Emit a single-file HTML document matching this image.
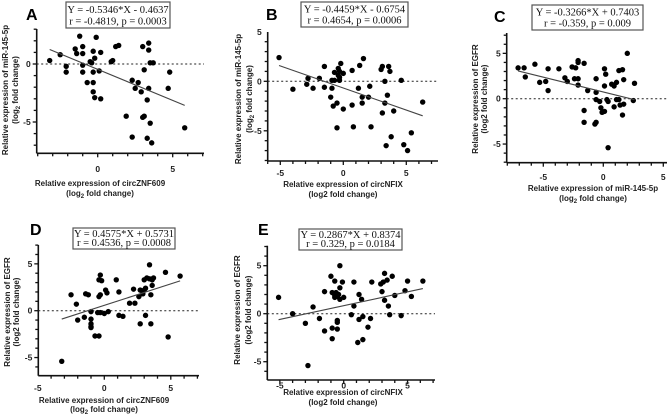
<!DOCTYPE html>
<html><head><meta charset="utf-8"><style>
html,body{margin:0;padding:0;background:#fff;}
svg{display:block;font-family:"Liberation Sans",Arial,sans-serif;}
.tk{font-size:8.5px;font-weight:bold;fill:#222;}
.tt{font-size:8px;font-weight:bold;fill:#222;}
.eq{font-family:"Liberation Serif",serif;font-size:10.5px;fill:#111;}
.lb{font-size:16px;font-weight:bold;fill:#000;}
</style></head><body>
<svg id="fig" width="669" height="417" viewBox="0 0 669 417"></svg>
<script>
const aX=[-3.2,-2.5,-2.1,-2.1,-1.2,-1.5,-1.4,-1.0,-1.0,-1.0,-1.0,-0.7,-0.5,-0.4,-0.3,-0.3,-0.3,-0.2,-0.3,-0.2,-0.1,0.1,0.2,0.2,0.9,1.0,1.2,1.4,1.9,2.3,2.3,2.5,2.7,2.9,3.0,3.0,3.1,3.1,3.3,3.4,3.4,3.3,3.6,3.4,3.5,3.5,3.7,4.7,4.8,5.8];
const aY=[0.3,0.8,-0.2,-0.7,2.4,1.3,0.9,1.5,0.9,-0.1,-0.7,-1.6,0.2,0.1,-0.7,-1.6,-2.4,-2.9,1.1,0.5,2.3,-0.6,1.0,-3.0,0.2,0.3,1.5,1.6,-4.5,-1.4,-6.3,-2.1,-1.6,-2.4,1.5,-4.6,-4.5,-0.5,-3.1,1.8,1.2,-6.4,-6.8,-2.1,-5.1,0.1,0.1,-2.1,-0.7,-5.5];
const bX=[-5.1,-4.0,-2.8,-2.9,-2.4,-1.9,-1.5,-1.5,-1.0,-0.9,-0.9,-0.8,-0.5,-0.7,-0.7,-0.5,-0.4,-0.3,-0.4,-0.3,-0.3,-0.2,0,0,0.7,0.7,0.8,1.3,1.2,1.5,1.5,1.6,2.0,2.1,2.2,3.0,3.1,3.1,3.3,3.3,3.4,3.6,3.7,3.5,3.8,4.0,4.6,4.8,5.1,5.4,6.3];
const bY=[2.4,-0.8,0.3,-0.3,-0.7,0.3,1.5,-0.6,-1.6,0.1,-0.7,-2.5,-2.2,0.9,0.1,-4.7,1.3,1.0,0.6,0.4,0.1,1.8,0.8,-2.8,1.1,-2.4,-4.6,1.6,-0.7,-1.6,-2.2,2.3,-1.6,-0.5,-4.6,1.2,1.5,-3.2,0,-2.2,-6.5,1.5,1.0,-1.4,-5.6,-3.0,0.1,-6.4,-7.0,-5.2,-2.1];
const cX=[-7.1,-6.6,-6.5,-5.7,-5.3,-4.6,-4.8,-4.6,-3.7,-3.2,-3.0,-2.6,-2.3,-2.4,-2.1,-2.1,-2.1,-2.1,-1.6,-1.6,-1.6,-1.3,-0.7,-0.6,-0.6,-0.6,-0.6,-0.3,-0.2,-0.1,0.1,0.1,0.2,0.1,0.3,0.4,0.4,0.7,0.9,1.1,0.9,1.1,1.3,1.3,1.4,1.6,1.7,1.6,1.7,2.0,2.5,2.6];
const cY=[3.4,3.4,2.4,3.8,1.8,3.3,1.9,0.9,3.3,2.3,1.9,3.5,3.4,2.2,2.2,4.2,4.0,1.5,3.9,-1.3,-2.6,0.9,-2.8,-2.6,-0.1,0.7,2.2,-0.3,-1.0,-1.5,-1.4,3.3,2.7,1.4,-0.1,-0.3,-5.4,1.6,1.4,1.8,-0.9,-0.1,-0.1,3.1,-0.7,3.2,2.1,-1.8,-0.6,5.0,-0.2,1.7];
const dX=[-3.2,-2.5,-2.1,-2.0,-1.4,-1.2,-1.5,-1.0,-1.0,-1.0,-1.0,-1.0,-0.7,-0.4,-0.5,-0.3,-0.4,-0.3,-0.3,-0.4,-0.2,0,0.1,0.2,0.3,0.9,1.1,1.1,1.4,1.9,2.2,2.3,2.6,2.7,2.7,3.0,3.1,2.9,3.0,3.2,3.1,3.4,3.4,3.6,3.7,3.5,3.5,3.6,4.6,4.8,5.7];
const dY=[-5.4,1.7,0.7,-1.0,1.8,1.7,-0.7,-0.9,-1.4,-1.7,-1.8,-0.1,-2.7,-2.7,-0.2,-0.2,1.5,1.7,3.8,3.3,3.2,-0.3,2.2,1.9,-0.1,3.3,-0.5,2.0,-0.6,0.8,2.3,0.8,1.5,-1.4,2.2,2.2,2.4,1.8,3.3,3.5,-0.5,4.9,3.4,3.3,3.5,1.7,-1.4,2.7,4.1,-2.8,3.7];
const eX=[-5.1,-4.0,-3.0,-2.8,-2.4,-1.9,-1.5,-1.5,-1.0,-0.9,-0.9,-0.9,-0.7,-0.7,-0.7,-0.6,-0.4,-0.5,-0.5,-0.5,-0.5,-0.3,-0.3,-0.3,-0.1,0,0.6,0.8,0.8,1.1,1.2,1.2,1.4,1.5,1.5,1.9,2.1,2.2,2.9,3.1,3.0,3.2,3.2,3.4,3.5,3.6,3.8,4.0,4.5,4.8,5.0,5.3,6.2];
const eY=[1.7,0,-1.0,-5.4,0.7,-0.5,-1.8,2.3,3.9,-1.5,-2.6,2.2,1.9,1.7,3.4,2.2,2.0,1.8,-0.7,-0.9,-1.6,5.0,2.7,1.5,3.3,1.7,-0.1,3.3,0.8,-3.0,2.0,-0.6,1.5,-2.7,-0.3,-1.4,-0.5,3.3,3.1,3.3,2.3,4.2,1.4,3.5,0.8,-0.1,3.9,1.9,-0.2,2.4,3.4,1.8,3.4];
const slopes=[-0.5346,-0.4459,-0.3266,0.4575,0.2867];
const intercepts=[-0.4637,-0.6754,0.7403,0.5731,0.8374];
const eqLines=[["Y = -0.5346*X - 0.4637","r = -0.4819, p = 0.0003"],["Y = -0.4459*X - 0.6754","r = 0.4654, p = 0.0006"],["Y = -0.3266*X + 0.7403","r = -0.359, p = 0.009"],["Y = 0.4575*X + 0.5731","r = 0.4536, p = 0.0008"],["Y = 0.2867*X + 0.8374","r = 0.329, p = 0.0184"]];
const xTicks=[[0,5],[-5,0,5],[-5,0,5],[-5,0,5],[-5,0,5]];
const yTicks=[[0,-5],[5,0,-5],[5,0,-5],[5,0,-5],[5,0,-5]];

const NS="http://www.w3.org/2000/svg";
const svg=document.getElementById('fig');
function mk(tag,attrs,parent){const e=document.createElementNS(NS,tag);for(const k in attrs)e.setAttribute(k,attrs[k]);(parent||svg).appendChild(e);return e;}

const P=[
 {L:"A",ax:36.7,ay:153.3,x0:97.7,xs:15,y0:64,ys:11.6,top:29,right:204,box:[66,2,104,26],lab:[26,20],yt:[8,18,90],xt:[100,186,196],tl:172,xs2:"circZNF609",xsub:true,ysTxt:"miR-145-5p",ysub:true,xd:aX,yd:aY},
 {L:"B",ax:267.7,ay:161,x0:343.3,xs:12.6,y0:81.3,ys:9.9,top:32,right:438,box:[301,2,107,25],lab:[266,20],yt:[241,252,99],xt:[343,187,197],tl:176,xs2:"circNFIX",xsub:false,ysTxt:"miR-145-5p",ysub:true,xd:bX,yd:bY},
 {L:"C",ax:506.7,ay:162.7,x0:603.3,xs:12,y0:98.7,ys:9.07,top:33,right:667,box:[532,5,111,25],lab:[494,22],yt:[478,487,99],xt:[593,191,201],tl:180,xs2:"miR-145-5p",xsub:true,ysTxt:"EGFR",ysub:false,xd:cX,yd:cY},
 {L:"D",ax:38.3,ay:375.7,x0:104.3,xs:13.3,y0:310.7,ys:9.37,top:245,right:199,box:[73,228,102,21],lab:[30,235],yt:[10,19,312],xt:[104,403,412],tl:391,xs2:"circZNF609",xsub:true,ysTxt:"EGFR",ysub:false,xd:dX,yd:dY},
 {L:"E",ax:267.3,ay:380,x0:343.7,xs:12.77,y0:313.7,ys:9.6,top:245.7,right:435,box:[299,229,103,21],lab:[258,235],yt:[240,251,310],xt:[343,395,405],tl:388.5,xs2:"circNFIX",xsub:false,ysTxt:"EGFR",ysub:false,xd:eX,yd:eY}
];

P.forEach((p,i)=>{
 const g=mk('g',{});
 
 
 const sx=v=>p.x0+v*p.xs, sy=v=>p.y0-v*p.ys;
 const xmin=(p.ax-p.x0)/p.xs, xmax=(p.right-p.x0)/p.xs;
 const ymax=(p.y0-p.top)/p.ys, ymin=(p.y0-p.ay)/p.ys;
 const ya=mk('line',{x1:p.ax,y1:p.top,x2:p.ax,y2:p.ay,stroke:'#111','stroke-width':1.6},g);
 
 const xa=mk('line',{x1:p.ax,y1:p.ay,x2:p.right,y2:p.ay,stroke:'#111','stroke-width':1.6},g);
 
 for(let v=Math.ceil(xmin);v<=Math.floor(xmax);v++){const maj=v%5===0;mk('line',{x1:sx(v),y1:p.ay,x2:sx(v),y2:p.ay+(maj?4:3),stroke:'#111','stroke-width':1.3},g);}
 for(let v=Math.ceil(ymin);v<=Math.floor(ymax);v++){const maj=v%5===0;mk('line',{x1:p.ax,y1:sy(v),x2:p.ax-(maj?4:3),y2:sy(v),stroke:'#111','stroke-width':1.3},g);}
 xTicks[i].forEach(v=>{const t=mk('text',{x:sx(v),y:p.tl,'text-anchor':'middle',class:'tk'},g);t.textContent=v;});
 yTicks[i].forEach(v=>{const t=mk('text',{x:p.ax-6,y:sy(v)+3,'text-anchor':'end',class:'tk'},g);t.textContent=v;});
 const z=mk('line',{x1:p.ax,y1:sy(0),x2:p.right,y2:sy(0),stroke:'#222','stroke-width':1,'stroke-dasharray':'2,2.5'},g);
 
 const xd=p.xd, yd=p.yd;
 for(let k=0;k<xd.length;k++){const c=mk('circle',{cx:sx(xd[k]),cy:sy(yd[k]),r:2.7,fill:'#000'},g);
  
  }
 const lo=Math.min(...xd), hi=Math.max(...xd);
 const rl=mk('line',{x1:sx(lo),y1:sy(slopes[i]*lo+intercepts[i]),x2:sx(hi),y2:sy(slopes[i]*hi+intercepts[i]),stroke:'#444','stroke-width':1.1},g);
 
 const b=p.box;
 const br=mk('rect',{x:b[0],y:b[1],width:b[2],height:b[3],fill:'#fff',stroke:'#555','stroke-width':1.2},g);
 
 eqLines[i].forEach((s,j)=>{const t=mk('text',{x:b[0]+b[2]/2,y:b[1]+b[3]*(j?0.86:0.42),'text-anchor':'middle',class:'eq'},g);t.textContent=s;});
 const lb=mk('text',{x:p.lab[0],y:p.lab[1],class:'lb'},g);lb.textContent=p.L;
 
 const yt=mk('text',{transform:`translate(${p.yt[0]},${p.yt[2]}) rotate(-90)`,'text-anchor':'middle',class:'tt'},g);
 yt.textContent='Relative expression of '+p.ysTxt;
 
 const yt2=mk('text',{transform:`translate(${p.yt[1]},${p.yt[2]}) rotate(-90)`,'text-anchor':'middle',class:'tt'},g);
 yt2.innerHTML=p.ysub?'(log<tspan font-size="6" dy="2">2</tspan><tspan dy="-2"> fold change)</tspan>':'(log2 fold change)';
 
 const xt=mk('text',{x:p.xt[0],y:p.xt[1],'text-anchor':'middle',class:'tt'},g);
 xt.textContent='Relative expression of '+p.xs2;
 
 const xt2=mk('text',{x:p.xt[0],y:p.xt[2],'text-anchor':'middle',class:'tt'},g);
 xt2.innerHTML=p.xsub?'(log<tspan font-size="6" dy="2">2</tspan><tspan dy="-2"> fold change)</tspan>':'(log2 fold change)';
 
});
</script>
</body></html>
